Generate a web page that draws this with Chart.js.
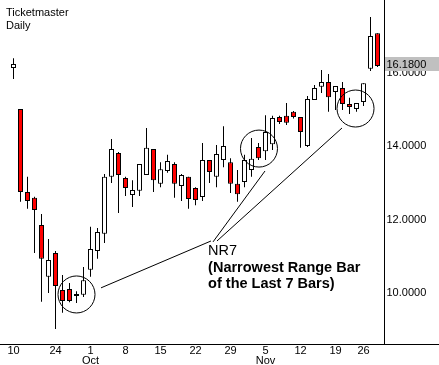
<!DOCTYPE html>
<html>
<head>
<meta charset="utf-8">
<script src="https://cdn.jsdelivr.net/npm/chart.js@4.4.1/dist/chart.umd.min.js"></script>
<style>
  html, body { margin: 0; padding: 0; background: #fff; }
</style>
</head>
<body>
<canvas id="chart" width="439" height="365"></canvas>
<script>
// Ticketmaster, daily bars (Sep - Nov)
const days = ['Sep 10', 'Sep 17', 'Sep 18', 'Sep 19', 'Sep 20', 'Sep 21', 'Sep 24', 'Sep 25', 'Sep 26', 'Sep 27', 'Sep 28',
    'Oct 1', 'Oct 2', 'Oct 3', 'Oct 4', 'Oct 5', 'Oct 8', 'Oct 9', 'Oct 10', 'Oct 11', 'Oct 12',
    'Oct 15', 'Oct 16', 'Oct 17', 'Oct 18', 'Oct 19', 'Oct 22', 'Oct 23', 'Oct 24', 'Oct 25', 'Oct 26',
    'Oct 29', 'Oct 30', 'Oct 31', 'Nov 1', 'Nov 2', 'Nov 5', 'Nov 6', 'Nov 7', 'Nov 8', 'Nov 9',
    'Nov 12', 'Nov 13', 'Nov 14', 'Nov 15', 'Nov 16', 'Nov 19', 'Nov 20', 'Nov 21', 'Nov 23',
    'Nov 26', 'Nov 27', 'Nov 28'];

const open = [16.12, 15.01, 12.75, 12.59, 11.85, 10.44, 11.09, 10.08, 10.11, 9.97, 9.95,
    10.63, 11.14, 11.61, 13.16, 13.81, 13.13, 12.67, 12.78, 13.21, 13.92,
    12.97, 13.32, 13.51, 12.91, 13.16, 12.86, 12.61, 13.62, 13.16, 13.62,
    13.56, 12.97, 13.02, 13.35, 13.97, 13.86, 14.05, 14.79, 14.82, 14.93,
    14.79, 14.00, 15.25, 15.61, 15.74, 15.47, 15.58, 15.14, 15.01,
    15.20, 16.10, 17.07];
const high = [16.39, 15.01, 13.16, 12.62, 12.15, 11.47, 11.14, 10.49, 10.27, 10.05, 10.71,
    11.80, 11.77, 13.24, 14.19, 13.84, 13.16, 13.07, 13.51, 14.49, 13.92,
    13.56, 13.76, 13.56, 13.24, 13.16, 12.88, 14.08, 13.62, 14.03, 14.54,
    13.67, 13.35, 13.76, 14.22, 14.08, 14.84, 14.82, 14.82, 15.17, 14.95,
    14.79, 15.36, 15.66, 16.07, 15.96, 15.63, 15.74, 15.31, 15.17,
    15.71, 17.51, 17.07];
const low = [15.82, 12.48, 12.29, 11.09, 9.76, 10.00, 9.02, 9.46, 9.75, 9.73, 9.89,
    10.44, 10.93, 11.36, 12.99, 12.18, 12.64, 12.34, 12.64, 13.21, 12.75,
    12.88, 13.27, 12.59, 12.50, 12.29, 12.39, 12.50, 12.99, 12.88, 13.42,
    12.72, 12.48, 12.88, 13.16, 13.62, 13.62, 13.89, 14.60, 14.57, 14.75,
    13.95, 13.97, 15.25, 15.44, 14.93, 14.98, 14.98, 14.87, 14.93,
    15.09, 16.04, 16.15];
const close = [16.23, 12.75, 12.50, 12.26, 10.93, 10.90, 10.19, 9.78, 9.78, 9.92, 10.35,
    11.20, 11.66, 13.16, 13.92, 13.21, 12.86, 12.80, 13.51, 13.95, 13.07,
    13.37, 13.59, 12.97, 13.21, 12.56, 12.53, 13.62, 13.29, 13.78, 14.00,
    12.97, 12.69, 13.62, 13.65, 13.67, 14.38, 14.76, 14.65, 14.63, 14.79,
    14.38, 15.28, 15.58, 15.74, 15.33, 15.63, 15.14, 15.06, 15.17,
    15.71, 16.99, 16.18];

// tick labels
const tickDays = ['Sep 10', 'Sep 24', 'Oct 1', 'Oct 8', 'Oct 15', 'Oct 22', 'Oct 29', 'Nov 5', 'Nov 12', 'Nov 19', 'Nov 26'];
const tickText = [['10'], ['24'], ['1', 'Oct'], ['8'], ['15'], ['22'], ['29'], ['5', 'Nov'], ['12'], ['19'], ['26']];
const priceTicks = [10, 12, 14, 16];

// NR7 annotation (bar index, price)
const circles = [[9, 9.96], [35.07, 13.93], [48.86, 15.02]];
const pointers = [[12.5, 10.14, 28.21, 11.415], [28.5, 11.39, 35.93, 13.32], [29.07, 11.415, 46.93, 14.49]];
const noteLines = ['NR7', '(Narrowest Range Bar', 'of the Last 7 Bars)'];

const FONT = "'Liberation Sans', Arial, sans-serif";

const wicks = days.map((d, i) => ({ x: i, y: [low[i], high[i]] }));
const bodies = days.map((d, i) => ({ x: i, y: [Math.min(open[i], close[i]), Math.max(open[i], close[i])] }));
const bodyColors = days.map((d, i) => close[i] < open[i] ? '#ff0000' : '#ffffff');

const extras = {
    id: 'extras',
    afterDraw(chart) {
        const ctx = chart.ctx;
        const xs = chart.scales.x, ys = chart.scales.y;
        const area = chart.chartArea;
        ctx.save();
        ctx.strokeStyle = '#000';
        ctx.fillStyle = '#000';
        ctx.lineWidth = 1;

        // axis lines
        ctx.beginPath();
        ctx.moveTo(0, area.bottom + 0.5);
        ctx.lineTo(chart.width, area.bottom + 0.5);
        ctx.moveTo(area.right, 0);
        ctx.lineTo(area.right, area.bottom);
        ctx.stroke();

        // last price tag
        const last = close[close.length - 1];
        const py = ys.getPixelForValue(last);
        ctx.fillStyle = '#c0c0c0';
        ctx.fillRect(area.right + 0.5, Math.round(py) - 9, chart.width - area.right, 14);
        ctx.fillStyle = '#000';
        ctx.font = '11px ' + FONT;
        ctx.textBaseline = 'middle';
        ctx.fillText(last.toFixed(4), area.right + 2, py - 1);

        // title
        ctx.textBaseline = 'alphabetic';
        ctx.fillText('Ticketmaster', 6, 16);
        ctx.fillText('Daily', 6, 29);

        // circles and pointer lines
        circles.forEach(c => {
            ctx.beginPath();
            ctx.arc(xs.getPixelForValue(c[0]), ys.getPixelForValue(c[1]), 18.5, 0, Math.PI * 2);
            ctx.stroke();
        });
        pointers.forEach(p => {
            ctx.beginPath();
            ctx.moveTo(xs.getPixelForValue(p[0]), ys.getPixelForValue(p[1]));
            ctx.lineTo(xs.getPixelForValue(p[2]), ys.getPixelForValue(p[3]));
            ctx.stroke();
        });

        // NR7 text
        const tx = xs.getPixelForValue(27.8);
        const ty = ys.getPixelForValue(11.034);
        ctx.font = '14.5px ' + FONT;
        ctx.fillText(noteLines[0], tx, ty);
        ctx.font = 'bold 14.5px ' + FONT;
        ctx.fillText(noteLines[1], tx, ty + 17);
        ctx.fillText(noteLines[2], tx, ty + 33);
        ctx.restore();
    }
};

const ctx = document.getElementById('chart').getContext('2d');
const chart = new Chart(ctx, {
    type: 'bar',
    data: {
        labels: days,
        datasets: [{
            label: 'Body',
            data: bodies,
            backgroundColor: bodyColors,
            borderColor: '#000',
            borderWidth: 1,
            borderSkipped: false,
            barThickness: 5,
            inflateAmount: 0,
            grouped: false,
            order: 0
        }, {
            label: 'Range',
            data: wicks,
            backgroundColor: '#000',
            borderWidth: 0,
            barThickness: 1,
            inflateAmount: 0,
            grouped: false,
            order: 1
        }]
    },
    options: {
        responsive: false,
        animation: false,
        layout: { padding: { left: 6.5, top: 0, right: 0, bottom: 0 } },
        plugins: {
            legend: { display: false },
            tooltip: { enabled: false }
        },
        scales: {
            x: {
                type: 'linear',
                offset: false,
                min: -1,
                max: days.length,
                grid: { display: false, drawTicks: false },
                border: { display: false },
                afterBuildTicks: s => { s.ticks = tickDays.map(d => ({ value: days.indexOf(d) })); },
                afterFit: s => { s.height = 21; s.paddingLeft = 0; s.paddingRight = 0; },
                ticks: {
                    autoSkip: false,
                    maxRotation: 0,
                    padding: 2,
                    color: '#000',
                    font: { family: FONT, size: 11, lineHeight: 0.9 },
                    callback: (v, i) => tickText[i]
                }
            },
            y: {
                type: 'linear',
                position: 'right',
                min: 8.612,
                max: 17.973,
                grid: { display: false, drawTicks: false },
                border: { display: false },
                afterBuildTicks: s => { s.ticks = priceTicks.map(v => ({ value: v })); },
                afterFit: s => { s.width = 54.5; s.paddingTop = 0; s.paddingBottom = 0; },
                ticks: {
                    padding: 2,
                    color: '#000',
                    font: { family: FONT, size: 11 },
                    callback: v => v.toFixed(4)
                }
            }
        }
    },
    plugins: [extras]
});
</script>
</body>
</html>
